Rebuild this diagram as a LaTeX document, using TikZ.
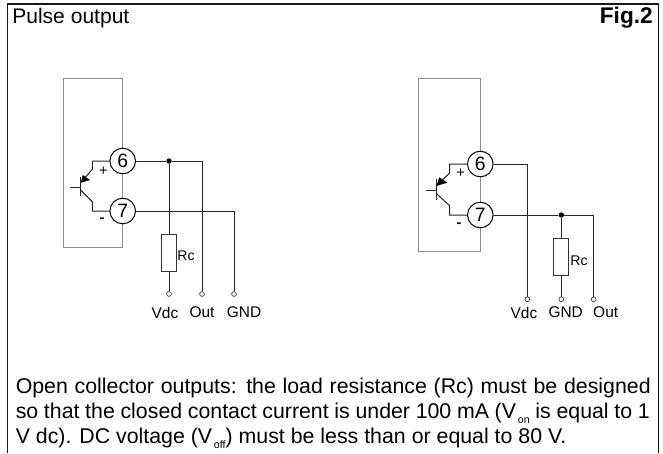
\documentclass[tikz,border=0pt]{standalone}
\usepackage{fontspec}
\setmainfont{Liberation Sans}
\tikzset{x=0.75pt,y=-0.75pt,
 wire/.style={draw=black!85,line width=0.75pt},
 housing/.style={draw=black!45,line width=0.75pt},
 pin/.style={circle,draw=black,fill=white,line width=0.75pt,minimum size=19.2pt,inner sep=0pt,font=\fontsize{14.5}{14.5}\selectfont},
 term/.style={circle,draw=black!80,fill=white,line width=0.5pt,minimum size=3.6pt,inner sep=0pt},
 junction/.style={circle,fill=black,minimum size=4pt,inner sep=0pt},
 res/.style={rectangle,draw=black!80,fill=white,line width=0.75pt,inner sep=0pt},
 lbl/.style={font=\fontsize{11.6}{13}\selectfont,inner sep=0pt,text=black},
 rclbl/.style={font=\fontsize{10.5}{12}\selectfont,inner sep=0pt,text=black},
 txt/.style={font=\fontsize{16}{18}\selectfont,inner sep=0pt,anchor=base west,text=black},
 plussign/.style={font=\fontsize{11}{11}\selectfont,inner sep=0pt,text=black},
 minussign/.style={font=\fontsize{11}{11}\selectfont\bfseries,inner sep=0pt,text=black}
}
\newcommand{\subtxt}[1]{\raisebox{-4pt}{\fontsize{8}{8}\selectfont\,#1}}
\begin{document}
\begin{tikzpicture}
\useasboundingbox (0,0) rectangle (663,453);
\fill[white] (0,0) rectangle (663,453);
\draw[black!90,line width=1.1pt] (7.5,453) -- (7.5,4) -- (658.5,4) -- (658.5,453);
\node[txt,font=\fontsize{15.8}{18}\selectfont] (title) at (12,24) {Pulse output};
\node[txt,anchor=base east,font=\fontsize{17}{18}\selectfont\bfseries] (fig) at (653,24) {Fig.2};
% left
\draw[housing] (63,78) rectangle (122.7,247);
\node[pin] (a6) at (122.7,161) {6};
\node[pin] (a7) at (122.7,211) {7};
\coordinate (abE) at (80.7,182.7);
\coordinate (abC) at (80.7,190);
\coordinate (aeK) at (92.3,169.3);
\coordinate (acK) at (92.3,201.7);
\coordinate (aeT) at (92.3,161);
\coordinate (acT) at (92.3,211);
\coordinate (abL) at (70,187);
\coordinate (abM) at (80.7,187);
\coordinate (abt) at (80.7,177);
\coordinate (abb) at (80.7,196);
\draw[wire] (abt) -- (abb);
\draw[wire] (abL) -- (abM);
\draw[wire] (a6) -- (aeT) -- (aeK) -- (abE);
\draw[wire] (a7) -- (acT) -- (acK) -- (abC);
\fill[black] (80.7,182.7) -- (82.7,175) -- (90,180) -- cycle;
\node[plussign] (ap) at (103.3,171) {+};
\node[minussign] (am) at (102,220.5) {-};
\node[junction] (aj) at (169,161) {};
\node[term] (at1) at (169,294) {};
\node[term] (at2) at (202,294) {};
\node[term] (at3) at (234,294) {};
\node[res,minimum width=10.95pt,minimum height=27.45pt] (ar) at (169,253) {};
\coordinate (acn1) at (202,161);
\coordinate (acn2) at (234,211);
\draw[wire] (a6) -- (aj) -- (acn1) -- (at2);
\draw[wire] (aj) -- (ar) -- (at1);
\draw[wire] (a7) -- (acn2) -- (at3);
\node[rclbl] (arl) at (186,256) {Rc};
\node[lbl] (av) at (165,312.5) {Vdc};
\node[lbl] (ao) at (202,312.5) {Out};
\node[lbl] (ag) at (244,312.5) {GND};
% right
\draw[housing] (418.7,78) rectangle (480.3,251);
\node[pin] (b6) at (480.3,164) {6};
\node[pin] (b7) at (480.3,215) {7};
\coordinate (bbE) at (436.3,186);
\coordinate (bbC) at (436.3,193.5);
\coordinate (beK) at (449.7,173);
\coordinate (bcK) at (449.7,205.7);
\coordinate (beT) at (449.7,164);
\coordinate (bcT) at (449.7,215);
\coordinate (bbL) at (426,190);
\coordinate (bbM) at (436.3,190);
\coordinate (bbt) at (436.3,179);
\coordinate (bbb) at (436.3,199.5);
\draw[wire] (bbt) -- (bbb);
\draw[wire] (bbL) -- (bbM);
\draw[wire] (b6) -- (beT) -- (beK) -- (bbE);
\draw[wire] (b7) -- (bcT) -- (bcK) -- (bbC);
\fill[black] (436.3,186) -- (439.3,177.3) -- (447.3,182.7) -- cycle;
\node[plussign] (bp) at (460.7,173) {+};
\node[minussign] (bm) at (459,225) {-};
\node[junction] (bj) at (561.3,215) {};
\node[term] (bt1) at (527.3,299.3) {};
\node[term] (bt2) at (561.3,299.3) {};
\node[term] (bt3) at (593.7,299.3) {};
\node[res,minimum width=11.25pt,minimum height=28pt] (br) at (561.3,257.3) {};
\coordinate (bcn1) at (527.3,164);
\coordinate (bcn2) at (593.7,215);
\draw[wire] (b6) -- (bcn1) -- (bt1);
\draw[wire] (b7) -- (bj) -- (bcn2) -- (bt3);
\draw[wire] (bj) -- (br) -- (bt2);
\node[rclbl] (brl) at (579,260.7) {Rc};
\node[lbl] (bv) at (524,312.5) {Vdc};
\node[lbl] (bg) at (565.7,312.5) {GND};
\node[lbl] (bo) at (605.7,312.5) {Out};
% text
\node[txt] (l1) at (15.5,393) {\makebox[476.25pt][s]{Open collector outputs: the load resistance (Rc) must be designed}};
\node[txt] (l2) at (15.5,418) {\makebox[475.5pt][s]{so that the closed contact current is under 100 mA (V\subtxt{on}\ is equal to 1}};
\node[txt] (l3) at (15.5,443) {V dc). DC voltage (V\subtxt{off}) must be less than or equal to 80 V.};
\end{tikzpicture}
\end{document}
